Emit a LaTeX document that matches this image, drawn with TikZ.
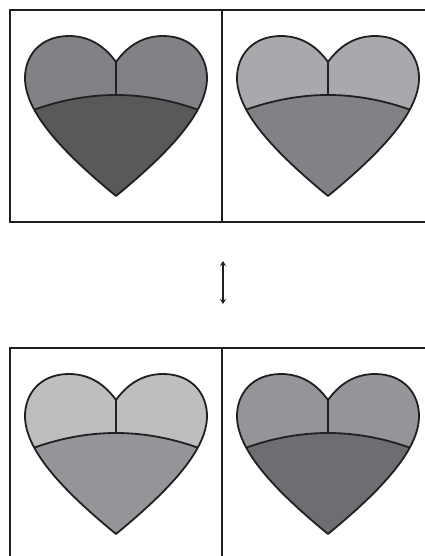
\documentclass[tikz,border=0pt]{standalone}
\usetikzlibrary{arrows.meta}
\definecolor{gA}{HTML}{58595B}
\definecolor{gB}{HTML}{6D6E71}
\definecolor{gC}{HTML}{808285}
\definecolor{gD}{HTML}{939598}
\definecolor{gE}{HTML}{A7A9AC}
\definecolor{gF}{HTML}{BCBEC0}
\definecolor{ink}{HTML}{231F20}
\tikzset{
  framestroke/.style={draw=ink, line width=1.6pt},
  heartline/.style={draw=ink, line width=1.8pt, line join=round},
}
\newcommand{\heartshape}{(0,62) .. controls (10,48) and (25,36) .. (47,36) .. controls (76,36) and (91,56) .. (91,78) .. controls (91,111) and (56,150) .. (0,196) .. controls (-56,150) and (-91,111) .. (-91,78) .. controls (-91,56) and (-76,36) .. (-47,36) .. controls (-25,36) and (-10,48) .. (0,62) -- cycle}
\newcommand{\myheart}[4]{%
  \begin{scope}[shift={(#1,#2)}]
    \begin{scope}
      \clip \heartshape;
      \fill[#3] (-100,20) rectangle (100,200);
      \fill[#4] (-100,117) parabola bend (0,95) (100,117) -- (100,200) -- (-100,200) -- cycle;
      \draw[heartline] (-100,117) parabola bend (0,95) (100,117);
    \end{scope}
    \draw[heartline] (0,62) -- (0,95);
    \draw[heartline] \heartshape;
  \end{scope}}
\begin{document}
\begin{tikzpicture}[x=1pt,y=-1pt]
  \useasboundingbox (0,0) rectangle (425,556);
  % top frame
  \draw[framestroke] (425,10) -- (10,10) -- (10,222) -- (425,222);
  \draw[framestroke] (222,10) -- (222,222);
  % bottom frame
  \draw[framestroke] (10,556) -- (10,348) -- (425,348);
  \draw[framestroke] (222,348) -- (222,556);
  % hearts
  \myheart{116}{0}{gC}{gA}
  \myheart{328}{0}{gE}{gC}
  \myheart{116}{338}{gF}{gD}
  \myheart{328}{338}{gD}{gB}
  % arrow
  \coordinate (atop) at (223,261);
  \coordinate (abot) at (223,304);
  \draw[draw=ink, line width=1.3pt, {Stealth[length=5pt,width=6pt]}-{Stealth[length=5pt,width=6pt]}] (atop) -- (abot);
\end{tikzpicture}
\end{document}
